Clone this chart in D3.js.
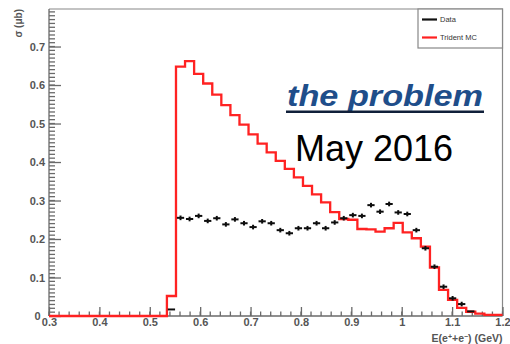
<!DOCTYPE html>
<html>
<head>
<meta charset="utf-8">
<script src="https://cdn.jsdelivr.net/npm/d3@7"></script>
<style>
  html, body { margin: 0; padding: 0; background: #fff; }
  svg { display: block; }
</style>
</head>
<body>
<svg id="chart" width="510" height="344"></svg>
<script>
// Histogram binning: 50 bins over E(e+e-) from 0.3 to 1.2 GeV
const xMin = 0.3, xMax = 1.2, nBins = 50;

// Trident MC cross section per bin (µb)
const mcValues = [
  0, 0, 0, 0, 0, 0, 0, 0, 0, 0, 0, 0, 0,
  0.052, 0.648, 0.662, 0.629, 0.604, 0.575, 0.548, 0.522, 0.497, 0.472,
  0.448, 0.425, 0.403, 0.382, 0.360, 0.338, 0.316, 0.295, 0.270, 0.252,
  0.250, 0.226, 0.225, 0.219, 0.228, 0.242, 0.217, 0.202, 0.180, 0.126,
  0.068, 0.042, 0.021, 0.011, 0.006, 0.003, 0.003
];

// Measured cross section per bin (µb); null where no point is drawn
const dataValues = [
  null, null, null, null, null, null, null, null, null, null, null, null, null,
  0.017, 0.255, 0.252, 0.260, 0.247, 0.254, 0.238, 0.251, 0.241, 0.231,
  0.246, 0.241, 0.223, 0.215, 0.228, 0.228, 0.241, 0.228, 0.243, 0.254,
  0.262, 0.260, 0.288, 0.271, 0.291, 0.269, 0.265, 0.223, 0.176, 0.128,
  0.076, 0.046, 0.031, 0.012, null, null, null
];
const dataErr = 0.006;

const xTicks = [0.3, 0.4, 0.5, 0.6, 0.7, 0.8, 0.9, 1.0, 1.1, 1.2];
const xTickLabels = ["0.3", "0.4", "0.5", "0.6", "0.7", "0.8", "0.9", "1", "1.1", "1.2"];
const yTicks = [0, 0.1, 0.2, 0.3, 0.4, 0.5, 0.6, 0.7];
const yTickLabels = ["0", "0.1", "0.2", "0.3", "0.4", "0.5", "0.6", "0.7"];

const legendLabels = ["Data", "Trident MC"];
const legendColors = ["#111", "#ff2020"];

const svg = d3.select("#chart");
const frame = { left: 49, right: 502.5, top: 9, bottom: 316 };

const x = d3.scaleLinear().domain([xMin, xMax]).range([frame.left, frame.right]);
const y = d3.scaleLinear().domain([0, 0.7975]).range([frame.bottom, frame.top]);

const binW = (xMax - xMin) / nBins;
const edges = d3.range(nBins + 1).map(i => xMin + i * binW);

const axisColor = "#6a6a6a";
const textColor = "#555";
const font = "'Liberation Sans', Arial, sans-serif";

// Frame (top and right sides)
svg.append("path")
  .attr("d", `M${frame.left},${frame.top}H${frame.right}V${frame.bottom}`)
  .attr("fill", "none").attr("stroke", "#888").attr("stroke-width", 1.2);

// Minor ticks
const yMinor = d3.range(0, 0.795, 0.01);
const xMinor = d3.range(xMin, xMax + 1e-9, 0.02);

// Y axis
const yAxis = d3.axisLeft(y)
  .tickValues(yTicks)
  .tickFormat((d, i) => yTickLabels[i])
  .tickSizeInner(-12).tickSizeOuter(0).tickPadding(4);
const gy = svg.append("g").attr("transform", `translate(${frame.left},0)`).call(yAxis);
gy.select(".domain").attr("d", `M0,${frame.top}V${frame.bottom}`);
gy.selectAll(".minor").data(yMinor).enter().append("line")
  .attr("class", "minor")
  .attr("x1", 0).attr("x2", 6)
  .attr("y1", d => y(d)).attr("y2", d => y(d));

// X axis
const xAxis = d3.axisBottom(x)
  .tickValues(xTicks)
  .tickFormat((d, i) => xTickLabels[i])
  .tickSizeInner(-9).tickSizeOuter(0).tickPadding(2);
const gx = svg.append("g").attr("transform", `translate(0,${frame.bottom})`).call(xAxis);
gx.select(".domain").attr("d", `M${frame.left},0H${frame.right}`);
gx.selectAll(".minor").data(xMinor).enter().append("line")
  .attr("class", "minor")
  .attr("x1", d => x(d)).attr("x2", d => x(d))
  .attr("y1", 0).attr("y2", -4.5);

[gx, gy].forEach(g => {
  g.selectAll(".domain, line").attr("stroke", axisColor).attr("stroke-width", 1.3);
  g.selectAll("text")
    .attr("fill", textColor)
    .style("font-family", font)
    .style("font-size", "11px")
    .style("font-weight", "bold");
});
// the zero label sits a little further left so it clears the "0.3" below it
gy.selectAll(".tick text").attr("x", d => (d === 0 ? -8.5 : -4));

// Axis titles
svg.append("text")
  .attr("transform", `translate(22,${frame.top}) rotate(-90)`)
  .attr("text-anchor", "end")
  .attr("fill", textColor)
  .style("font-family", font)
  .style("font-size", "10px").style("font-weight", "bold")
  .text("σ (μb)");

const xTitle = svg.append("text")
  .attr("x", frame.right).attr("y", 342)
  .attr("text-anchor", "end")
  .attr("fill", textColor)
  .style("font-family", font)
  .style("font-size", "10.5px").style("font-weight", "bold");
xTitle.append("tspan").text("E(e");
xTitle.append("tspan").attr("dy", -3).style("font-size", "7px").text("+");
xTitle.append("tspan").attr("dy", 3).text("+e");
xTitle.append("tspan").attr("dy", -3).style("font-size", "7px").text("−");
xTitle.append("tspan").attr("dy", 3).text(") (GeV)");

// Soft edges for the drawn marks
const defs = svg.append("defs");
defs.append("filter").attr("id", "soft")
  .append("feGaussianBlur").attr("stdDeviation", 0.45);

// Trident MC histogram outline
const histPts = mcValues.map((v, i) => [edges[i], v]);
histPts.push([xMax, mcValues[nBins - 1]]);
const stepLine = d3.line()
  .x(d => x(d[0])).y(d => y(d[1]))
  .curve(d3.curveStepAfter);
svg.append("path")
  .datum(histPts)
  .attr("d", stepLine)
  .attr("fill", "none")
  .attr("stroke", legendColors[1])
  .attr("stroke-width", 2.3)
  .attr("filter", "url(#soft)");

// Data points with error bars
const pts = dataValues
  .map((v, i) => ({ c: edges[i] + binW / 2, v }))
  .filter(d => d.v !== null);
const gp = svg.append("g").attr("stroke", legendColors[0]).attr("stroke-width", 2)
  .attr("filter", "url(#soft)");
gp.selectAll(".h").data(pts).enter().append("line")
  .attr("x1", d => x(d.c - binW * 0.4)).attr("x2", d => x(d.c + binW * 0.4))
  .attr("y1", d => y(d.v)).attr("y2", d => y(d.v));
gp.selectAll(".v").data(pts.filter(d => d.v > 0.02)).enter().append("line")
  .attr("x1", d => x(d.c)).attr("x2", d => x(d.c))
  .attr("y1", d => y(d.v - dataErr)).attr("y2", d => y(d.v + dataErr));

// Legend
const lg = { x0: 418, y0: frame.top, x1: frame.right, y1: 48 };
svg.append("rect")
  .attr("x", lg.x0).attr("y", lg.y0)
  .attr("width", lg.x1 - lg.x0).attr("height", lg.y1 - lg.y0)
  .attr("fill", "#fff").attr("stroke", "#888").attr("stroke-width", 1.2);
const legendY = [19.5, 37.5];
legendLabels.forEach((lab, i) => {
  svg.append("line")
    .attr("x1", 422).attr("x2", 437)
    .attr("y1", legendY[i]).attr("y2", legendY[i])
    .attr("stroke", legendColors[i]).attr("stroke-width", 2.2);
  svg.append("text")
    .attr("x", 440).attr("y", legendY[i] + 2.6)
    .attr("fill", "#333")
    .style("font-family", font)
    .style("font-size", "7.5px")
    .text(lab);
});

// Annotation
svg.append("text")
  .attr("x", 287).attr("y", 106)
  .attr("fill", "#1f4e8a")
  .attr("textLength", 196).attr("lengthAdjust", "spacingAndGlyphs")
  .style("font-family", font)
  .style("font-size", "30px").style("font-weight", "bold").style("font-style", "italic")
  .text("the problem");
svg.append("line")
  .attr("x1", 286).attr("x2", 484)
  .attr("y1", 111.8).attr("y2", 111.8)
  .attr("stroke", "#10203a").attr("stroke-width", 2.6);
svg.append("text")
  .attr("x", 295).attr("y", 161)
  .attr("fill", "#000")
  .style("font-family", font)
  .style("font-size", "36px")
  .text("May 2016");
</script>
</body>
</html>
